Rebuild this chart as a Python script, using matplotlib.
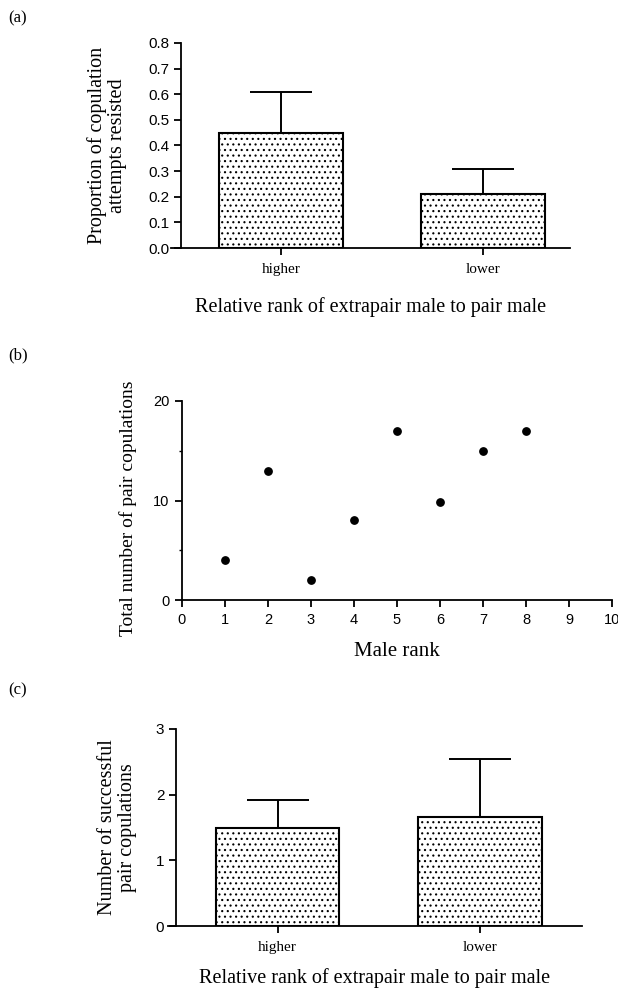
import numpy as np
import matplotlib
matplotlib.use("Agg")
import matplotlib.pyplot as plt

# (a) proportion of copulation attempts resisted
rank_groups = ["higher", "lower"]
resisted_mean = [0.45, 0.21]
resisted_err = [0.16, 0.10]

# (b) total pair copulations vs male rank
male_rank = [1, 2, 3, 4, 5, 6, 7, 8]
pair_cops = [4, 13, 2, 8, 17, 9.8, 15, 17]

# (c) successful pair copulations
success_mean = [1.50, 1.66]
success_err = [0.42, 0.89]

serif = "Liberation Serif"
sans = "Liberation Sans"
plt.rcParams["hatch.linewidth"] = 0.8
plt.rcParams["hatch.color"] = "black"

fig = plt.figure(figsize=(6.18, 9.88), dpi=100)


def bar_panel(ax, means, errs, xlim, spine_x, yticks, fmt, labelpad):
    x = np.arange(len(means))
    ax.bar(x, means, width=0.61, color="white", edgecolor="black",
           linewidth=1.5, hatch="...", zorder=2)
    ax.errorbar(x, means, yerr=[np.zeros(len(errs)), errs], fmt="none",
                ecolor="black", elinewidth=1.4, capsize=22, capthick=1.4,
                zorder=3)
    ax.set_xlim(*xlim)
    ax.set_ylim(yticks[0], yticks[-1])
    ax.spines["left"].set_position(("data", spine_x))
    ax.spines["top"].set_visible(False)
    ax.spines["right"].set_visible(False)
    for s in ("left", "bottom"):
        ax.spines[s].set_linewidth(1.3)
    ax.set_xticks(x)
    ax.set_xticklabels(rank_groups, fontfamily=serif, fontsize=11)
    ax.set_yticks(yticks)
    ax.set_yticklabels([fmt.format(v) for v in yticks], fontfamily=sans,
                       fontsize=11)
    ax.tick_params(axis="both", direction="out", length=5, width=1.3,
                   pad=3.5)
    ax.tick_params(axis="x", pad=6)
    ax.set_xlabel("Relative rank of extrapair male to pair male",
                  fontfamily=serif, fontsize=14.5, labelpad=labelpad)


# panel (a)
ax_a = fig.add_axes([171 / 618, 740 / 988, 399 / 618, 205 / 988])
bar_panel(ax_a, resisted_mean, resisted_err, (-0.545, 1.431), -0.495,
          [0.0, 0.1, 0.2, 0.3, 0.4, 0.5, 0.6, 0.7, 0.8], "{:.1f}", 15)
ax_a.set_ylabel("Proportion of copulation\nattempts resisted",
                fontfamily=serif, fontsize=14.5, linespacing=1.05)
ax_a.yaxis.set_label_coords(-0.11, 0.5)
fig.text(8 / 618, 1 - 18 / 988, "(a)", fontfamily=serif, fontsize=12,
         va="center")

# panel (b)
ax_b = fig.add_axes([182 / 618, 388 / 988, 430 / 618, 199 / 988])
ax_b.scatter(male_rank, pair_cops, s=28, color="black", zorder=3,
             clip_on=False)
ax_b.set_xlim(0, 10)
ax_b.set_ylim(0, 20)
ax_b.set_xticks(range(0, 11))
ax_b.set_yticks([0, 10, 20])
ax_b.set_yticks([5, 15], minor=True)
ax_b.spines["top"].set_visible(False)
ax_b.spines["right"].set_visible(False)
for s in ("left", "bottom"):
    ax_b.spines[s].set_linewidth(1.3)
ax_b.tick_params(axis="both", which="major", direction="out", length=5,
                 width=1.3, pad=4, labelsize=10.5)
ax_b.tick_params(axis="y", which="minor", direction="out", length=2,
                 width=1.0)
for lab in ax_b.get_xticklabels() + ax_b.get_yticklabels():
    lab.set_fontfamily(sans)
ax_b.set_xlabel("Male rank", fontfamily=serif, fontsize=15, labelpad=11)
ax_b.set_ylabel("Total number of pair copulations", fontfamily=serif,
                fontsize=14)
ax_b.yaxis.set_label_coords(-0.105, 0.46)
fig.text(8 / 618, 1 - 355 / 988, "(b)", fontfamily=serif, fontsize=12,
         va="center")

# panel (c)
ax_c = fig.add_axes([168 / 618, 62 / 988, 414 / 618, 197 / 988])
bar_panel(ax_c, success_mean, success_err, (-0.541, 1.504), -0.501,
          [0, 1, 2, 3], "{:d}", 10)
ax_c.set_ylabel("Number of successful\npair copulations",
                fontfamily=serif, fontsize=14.5, linespacing=1.05)
ax_c.yaxis.set_label_coords(-0.075, 0.5)
fig.text(8 / 618, 1 - 690 / 988, "(c)", fontfamily=serif, fontsize=12,
         va="center")

fig.savefig("out.png", dpi=100)
